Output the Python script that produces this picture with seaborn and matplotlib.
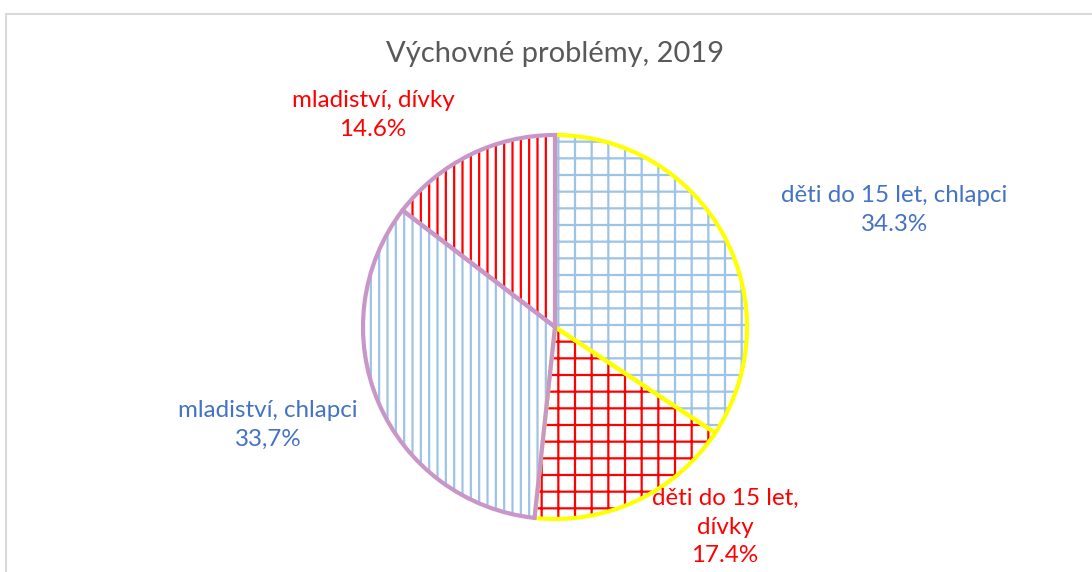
import numpy as np
import matplotlib.pyplot as plt
import matplotlib.patches as mpatches
import seaborn as sns

# data
categories = ["děti do 15 let, chlapci", "děti do 15 let, dívky",
              "mladiství, chlapci", "mladiství, dívky"]
shares = [34.3, 17.4, 33.7, 14.6]
label_texts = ["děti do 15 let, chlapci\n34.3%",
               "děti do 15 let,\ndívky\n17.4%",
               "mladiství, chlapci\n33,7%",
               "mladiství, dívky\n14.6%"]
hatch_colors = ["#9DC3E6", "#FF0000", "#9DC3E6", "#FF0000"]
hatches = ["+", "+", "||", "||"]
border_colors = ["#FFFF00", "#FFFF00", "#C896C8", "#C896C8"]
label_colors = ["#4472C4", "#FF0000", "#4472C4", "#FF0000"]
label_pos = [(1.766, 0.609), (0.885, -1.042), (-1.495, -0.51), (-0.948, 1.104)]

sns.set_theme(style="white")
plt.rcParams['font.family'] = ['Lato', 'DejaVu Sans']
plt.rcParams['hatch.linewidth'] = 1.6

fig = plt.figure(figsize=(10.92, 5.72), dpi=100)
fig.patch.set_facecolor("white")

# light chart-area border (top and left visible)
fig.add_artist(mpatches.Rectangle((6 / 1092, -0.1), 1.2, (572 - 13.5) / 572 + 0.1,
                                  transform=fig.transFigure, fill=False,
                                  edgecolor="#D9D9D9", linewidth=1.5))

cx, cy, r = 555, 327, 192
ax = fig.add_axes([(cx - r) / 1092, (572 - cy - r) / 572, 2 * r / 1092, 2 * r / 572])

# hatched fill
wedges, _ = ax.pie(shares, startangle=90, counterclock=False, radius=1,
                   wedgeprops=dict(facecolor="white", linewidth=0))
for w, hc, h in zip(wedges, hatch_colors, hatches):
    w.set_edgecolor(hc)
    w.set_hatch(h)

# slice borders on top
borders, _ = ax.pie(shares, startangle=90, counterclock=False, radius=1,
                    wedgeprops=dict(fill=False, linewidth=3))
for w, bc in zip(borders, border_colors):
    w.set_edgecolor(bc)

for txt, col, (x, y) in zip(label_texts, label_colors, label_pos):
    ax.text(x, y, txt, color=col, fontsize=17.4, ha="center", va="center",
            linespacing=1.45, clip_on=False)

ax.set_xlim(-1, 1)
ax.set_ylim(-1, 1)
ax.set_aspect("auto")
ax.axis("off")

fig.text(555 / 1092, 1 - 54 / 572, "Výchovné problémy, 2019", ha="center", va="center",
         fontsize=21, color="#595959")

fig.savefig("out.png", dpi=100, facecolor="white")
